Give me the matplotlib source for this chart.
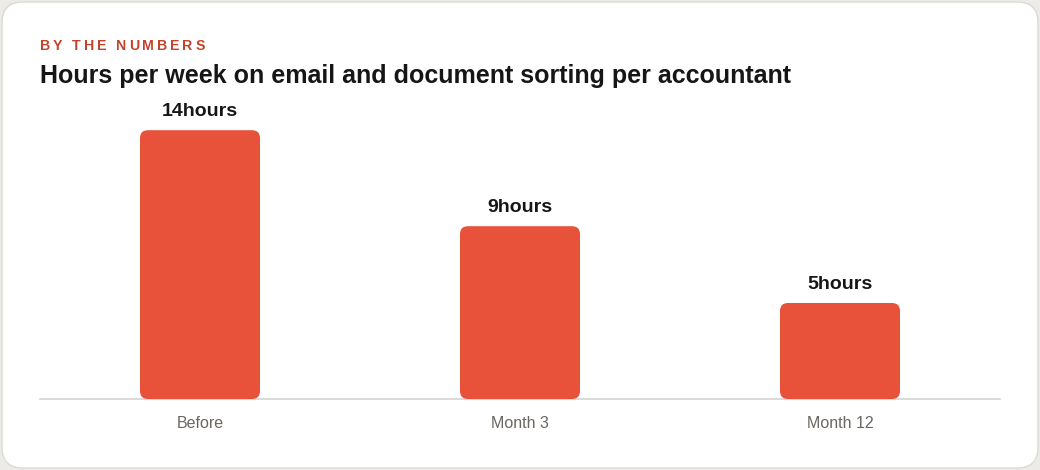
import matplotlib
matplotlib.use('Agg')
import matplotlib.pyplot as plt
from matplotlib.patches import FancyBboxPatch

plt.rcParams['font.family'] = ['Liberation Sans', 'DejaVu Sans']

# chart data
categories = ['Before', 'Month 3', 'Month 12']
hours = [14, 9, 5]
value_labels = ['14hours', '9hours', '5hours']

BAR_COLOR = '#e8513a'
KICKER_COLOR = '#c4432b'
W, H, DPI = 1040, 470, 100

fig = plt.figure(figsize=(W / DPI, H / DPI), dpi=DPI)
fig.patch.set_facecolor('#ecebe7')

# white card with rounded corners
card = FancyBboxPatch((2 / W, 2 / H), (W - 4) / W, (H - 4) / H,
                      boxstyle='round,pad=0,rounding_size=0.02',
                      mutation_aspect=W / H,
                      transform=fig.transFigure, facecolor='white',
                      edgecolor='#dddad4', linewidth=1.0, zorder=-5)
fig.patches.append(card)

# kicker text, letter-spaced by hand
renderer = fig.canvas.get_renderer()
x = 40
for ch in 'BY THE NUMBERS':
    t = fig.text(x / W, 1 - 50 / H, ch, fontsize=10.2, fontweight='bold',
                 color=KICKER_COLOR, va='baseline', ha='left')
    bb = t.get_window_extent(renderer)
    x += bb.width + 2.8 if ch != ' ' else 7

fig.text(40 / W, 1 - 83 / H,
         'Hours per week on email and document sorting per accountant',
         fontsize=18, fontweight='bold', color='#161616', va='baseline', ha='left')

ax_l, ax_r, ax_b, ax_t = 40, 1000, 399, 111
ax = fig.add_axes([ax_l / W, 1 - ax_b / H, (ax_r - ax_l) / W, (ax_b - ax_t) / H])
ax.set_facecolor('none')
ax.set_zorder(2)

bar_w = 0.375
ymax = 15
bars = ax.bar(range(len(categories)), hours, width=bar_w, color='none')
ax.set_xlim(-0.5, len(categories) - 0.5)
ax.set_ylim(0, ymax)

# x units per px vs y units per px, for round corners
px_x = len(categories) / (ax_r - ax_l)
px_y = ymax / (ax_b - ax_t)
radius_px = 8
for b in bars:
    p = FancyBboxPatch((b.get_x(), 0), b.get_width(), b.get_height(),
                       boxstyle='round,pad=0,rounding_size=%f' % (radius_px * px_x),
                       mutation_aspect=px_y / px_x,
                       facecolor=BAR_COLOR, edgecolor='none', zorder=2)
    ax.add_patch(p)

for i, (v, lab) in enumerate(zip(hours, value_labels)):
    ax.annotate(lab, (i, v), xytext=(0, 7), textcoords='offset points',
                ha='center', va='bottom', fontsize=14, fontweight='bold',
                color='#161616')

for s in ['top', 'right', 'left']:
    ax.spines[s].set_visible(False)
ax.spines['bottom'].set_color('#d6d3ce')
ax.spines['bottom'].set_linewidth(1.2)
ax.spines['bottom'].set_zorder(1)
ax.set_yticks([])
ax.set_xticks(range(len(categories)))
ax.set_xticklabels(categories)
ax.tick_params(axis='x', length=0, pad=12, labelsize=11.5, labelcolor='#6b6660')

fig.savefig('out.png', dpi=DPI, facecolor=fig.get_facecolor())
